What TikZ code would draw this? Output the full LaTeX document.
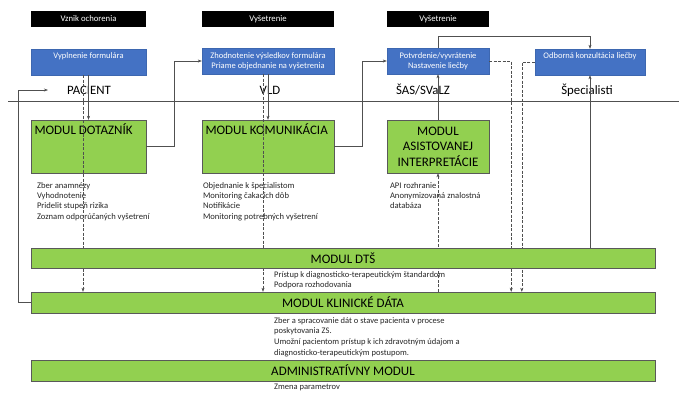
\documentclass[tikz,border=0pt]{standalone}
\usepackage{fontspec}
\setmainfont{Carlito}
\usepackage{xcolor}
\usetikzlibrary{arrows.meta}
\usetikzlibrary{positioning}

\definecolor{modgreen}{RGB}{146,208,80}
\definecolor{stepblue}{RGB}{68,114,196}
\definecolor{linegray}{RGB}{80,80,80}

\begin{document}
\begin{tikzpicture}[x=1pt,y=-1pt]
\tikzset{phasebox/.style={fill=black,text=white,font=\fontsize{8.7}{10}\selectfont,minimum height=16,inner sep=0pt},
stepbox/.style={fill=stepblue,draw=stepblue!90!black,text=white,align=center,font=\fontsize{8.5}{10}\selectfont,minimum height=26,inner sep=0pt},
module/.style={fill=modgreen,draw=black!65,minimum height=53,inner sep=0pt,align=center,font=\fontsize{13}{15.5}\selectfont},
modtitle/.style={font=\fontsize{13}{15}\selectfont,inner sep=3.5pt},
bar/.style={fill=modgreen,draw=black!65,minimum width=624,inner sep=0pt,font=\fontsize{13}{15}\selectfont},
lane/.style={font=\fontsize{12.8}{15}\selectfont,inner sep=1pt},
listtext/.style={align=left,text=black!85,font=\fontsize{8.6}{10.3}\selectfont,inner sep=0pt},
listwide/.style={listtext,font=\fontsize{8.5}{10.8}\selectfont},
arr/.style={draw=linegray,-{Stealth[length=4pt,width=3pt]}},
dasharr/.style={arr,dash pattern=on 3pt off 1.5pt}}
\useasboundingbox (0,0) rectangle (679,392);
% phases
\node[phasebox,minimum width=115](ph1) at (88.5,19){Vznik ochorenia};
\node[phasebox,minimum width=132](ph2) at (268,19){Vyšetrenie};
\node[phasebox,minimum width=102](ph3) at (438,19){Vyšetrenie};
% steps
\node[stepbox,minimum width=115](s1) at (88.5,62){Vyplnenie formulára\\\strut};
\node[stepbox,minimum width=132](s2) at (268,61){Zhodnotenie výsledkov formulára\\Priame objednanie na vyšetrenia};
\node[stepbox,minimum width=102](s3) at (438,61){Potvrdenie/vyvrátenie\\Nastavenie liečby};
\node[stepbox,minimum width=110](s4) at (590,62){Odborná konzultácia liečby\\\strut};
% lanes
\node[lane](pac) at (89,90){PACIENT};
\node[lane](vld) at (270,90){VLD};
\node[lane](sas) at (423,90){ŠAS/SVaLZ};
\node[lane](spec) at (587,90){Špecialisti};
\draw[linegray] (8,101) -- (679,101);
% modules
\node[module,minimum width=115,label={[modtitle,anchor=north west]north west:MODUL DOTAZNÍK}](dot) at (88.5,146.5){};
\node[module,minimum width=132,label={[modtitle,anchor=north west]north west:MODUL KOMUNIKÁCIA}](kom) at (268,146.5){};
\node[module,minimum width=102](asi) at (438,146.5){MODUL\\ASISTOVANEJ\\INTERPRETÁCIE};
\node[listtext,below=9pt of dot.south west,anchor=north west,xshift=6pt](dotl){Zber anamnézy\\Vyhodnotenie\\Pridelit stupeň rizika\\Zoznam odporúčaných vyšetrení};
\node[listtext,below=9pt of kom.south west,anchor=north west,xshift=1pt](koml){Objednanie k špecialistom\\Monitoring čakacích dôb\\Notifikácie\\Monitoring potrebných vyšetrení};
\node[listtext,below=9pt of asi.south west,anchor=north west,xshift=3pt](asil){API rozhranie\\Anonymizovaná znalostná\\databáza};
% data bars
\node[bar,minimum height=21](klin) at (343,302.5){MODUL KLINICKÉ DÁTA};
\node[bar,minimum height=21](adm) at (343,370.5){ADMINISTRATÍVNY MODUL};
\node[listwide,anchor=north west](klinl) at (274,317){Zber a spracovanie dát o stave pacienta v procese\\poskytovania ZS.\\Umožní pacientom prístup k ich zdravotným údajom a\\diagnosticko-terapeutickým postupom.};
\node[listwide,anchor=north west](adml) at (274,384){Zmena parametrov};
% connectors
\draw[arr] (s1) -- (dot);
\draw[dasharr] ([xshift=-5.5pt]s1.south) -- ([xshift=-5.5pt]s1.south |- klin.north);
\draw[arr] (s2) -- (kom);
\draw[dasharr] ([xshift=-5pt]s2.south) -- ([xshift=-5pt]s2.south |- klin.north);
\draw[arr] (dot.east) -- ++(28,0) |- (s2.west);
\draw[arr] (kom.east) -- ++(28,0) |- (s3.west);
\draw[arr] (asi) -- (s3);
\draw[dasharr] (asi.south |- klin.north) -- (asi.south);
\draw[arr] (s3.north) -- ++(0,-12) -| (s4.north);
\draw[dasharr] (s3.east) -- ++(22,0) coordinate (d1) -- (d1 |- klin.north);
\draw[dasharr] (s4.west) -- ++(-13,0) coordinate (d2) -- (d2 |- klin.north);
\draw[arr] (klin.west) -- ++(-13,0) |- ([xshift=-18pt]pac.west);
% DTS bar on top of the lines
\node[bar,minimum height=20](dts) at (343,258){MODUL DTŠ};
\node[listwide,anchor=north west](dtsl) at (274,271){Prístup k diagnosticko-terapeutickým štandardom\\Podpora rozhodovania};
\draw[arr] (s4.south |- dts.north) -- (s4.south);
\end{tikzpicture}
\end{document}
